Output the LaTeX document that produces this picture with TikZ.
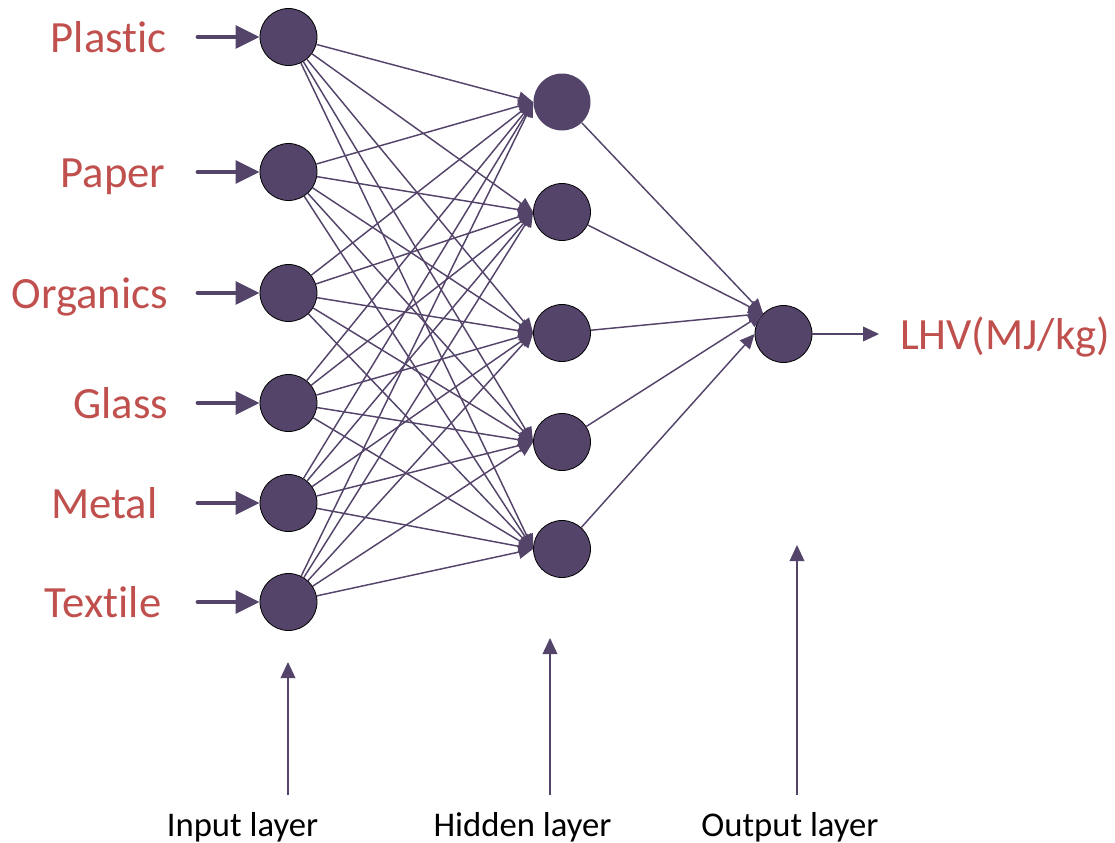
\documentclass[tikz,border=0pt]{standalone}
\usepackage{fontspec}
\setmainfont[Ligatures=NoCommon]{Carlito}
\usetikzlibrary{positioning, arrows.meta}

\definecolor{cellfill}{RGB}{84,68,106}
\definecolor{labred}{RGB}{192,80,77}

\begin{document}
\begin{tikzpicture}[x=0.75pt, y=-0.75pt,
        neuron/.style={
            circle, fill=cellfill, draw=black, line width=0.6pt,
            minimum size=42.75pt, inner sep=0pt
        },
        feed/.style={-{Triangle[length=18pt, width=17pt]}, line width=3pt, draw=cellfill, line cap=round},
        link/.style={-{Triangle[length=11pt, width=10pt]}, line width=1.1pt, draw=cellfill},
        pointer/.style={-{Triangle[length=12pt, width=11pt]}, line width=1.1pt, draw=cellfill},
        inlabel/.style={font=\fontsize{33.5}{40}\selectfont, text=labred, inner sep=0pt, text height=23pt, text depth=0pt},
        layerlabel/.style={font=\fontsize{26}{31}\selectfont, inner sep=0pt, anchor=base}
    ]
    \useasboundingbox (0,0) rectangle (1115,843);

    % input layer with its feeding arrows
    \foreach \name/\txt/\ypos/\gap in {plastic/Plastic/37/23pt, paper/Paper/172/24pt,
            organics/Organics/293/22pt, glass/Glass/403/22pt,
            metal/Metal/503/30pt, textile/Textile/602/27pt}{
        \node[neuron] (\name) at (288.5,\ypos) {};
        \coordinate[left=46.5pt of \name] (\name-src);
        \node[inlabel, left=\gap of \name-src] (\name-lbl) {\txt};
        \draw[feed] (\name-src) -- (\name);
    }

    % hidden layer
    \node[neuron, draw=none] (h1) at (562,102) {};
    \node[neuron] (h2) at (562,212) {};
    \node[neuron] (h3) at (562,333) {};
    \node[neuron] (h4) at (562,442) {};
    \node[neuron] (h5) at (562,549) {};

    % output layer
    \node[neuron] (lhv) at (783.5,334) {};

    \foreach \src in {plastic,paper,organics,glass,metal,textile}
        \foreach \dst in {h1,h2,h3,h4,h5}
            \draw[link] (\src) -- (\dst.west);

    \foreach \src in {h1,h2,h3,h4}
        \draw[link] (\src) -- (lhv.north west);
    \draw[link] (h5) -- (lhv.west);

    \coordinate[right=50pt of lhv] (lhv-tip);
    \draw[pointer] (lhv) -- (lhv-tip);
    \node[inlabel, right=15.5pt of lhv-tip] (lhv-lbl) {LHV(MJ/kg)};

    % layer captions
    \node[layerlabel] (inputcap) at (242.5,836) {Input layer};
    \node[layerlabel] (hiddencap) at (522.5,836) {Hidden layer};
    \node[layerlabel] (outputcap) at (790,836) {Output layer};

    \coordinate (input-foot) at (288,795);
    \coordinate (input-head) at (288,662);
    \coordinate (hidden-foot) at (550,795);
    \coordinate (hidden-head) at (550,638);
    \coordinate (output-foot) at (797,795);
    \coordinate (output-head) at (797,545);
    \draw[pointer] (input-foot) -- (input-head);
    \draw[pointer] (hidden-foot) -- (hidden-head);
    \draw[pointer] (output-foot) -- (output-head);
\end{tikzpicture}
\end{document}
